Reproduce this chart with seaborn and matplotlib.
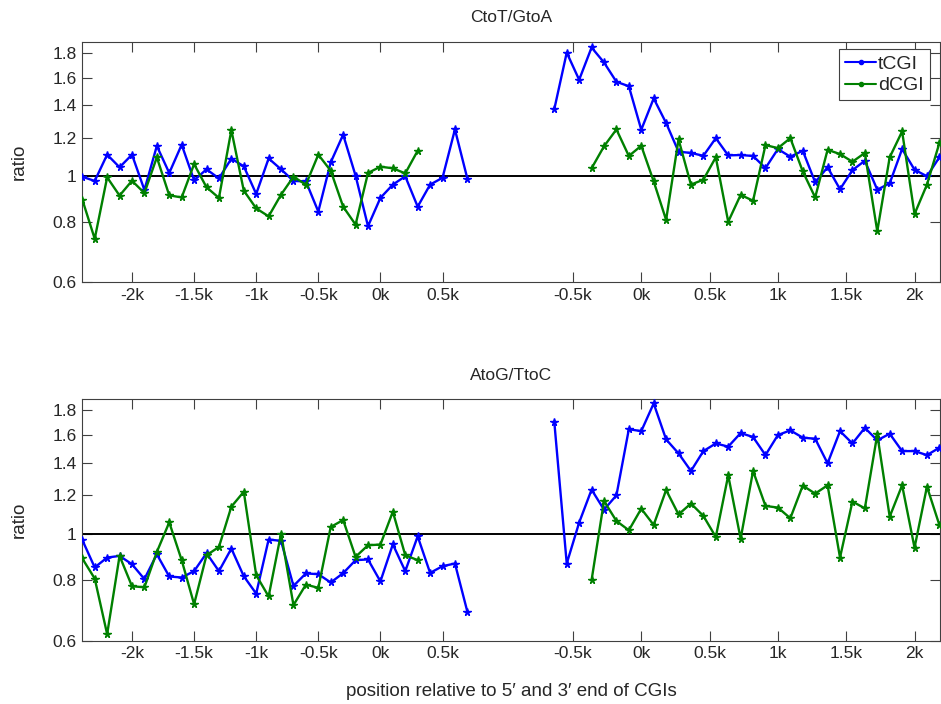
import numpy as np
import pandas as pd
import matplotlib
matplotlib.use("Agg")
import matplotlib.pyplot as plt
from matplotlib.lines import Line2D
from matplotlib.ticker import FixedLocator, FixedFormatter, NullLocator
import seaborn as sns

# ---------------- data ----------------
# 5' end: bins of 100 bp from -2400 to +700
left_bp = list(range(-2400, 800, 100))
# 3' end: bin index relative to the 3' end (bin 0 = 0k)
right_bin = list(range(-7, 25))

panel_titles = ["CtoT/GtoA", "AtoG/TtoC"]
groups = ["tCGI", "dCGI"]

ctot_tcgi_5 = [0.995, 0.975, 1.106, 1.041, 1.106, 0.934, 1.153, 1.013, 1.160, 0.978,
               1.031, 0.987, 1.085, 1.046, 0.916, 1.086, 1.031, 0.975, 0.973, 0.842,
               1.066, 1.217, 1.000, 0.785, 0.899, 0.958, 0.997, 0.862, 0.958, 0.990,
               1.248, 0.986]
ctot_dcgi_5 = [0.892, 0.739, 0.992, 0.909, 0.976, 0.920, 1.092, 0.910, 0.901, 1.057,
               0.946, 0.899, 1.244, 0.931, 0.855, 0.823, 0.913, 0.995, 0.958, 1.106,
               1.024, 0.862, 0.791, 1.013, 1.044, 1.036, 1.011, 1.127]
ctot_tcgi_3 = [1.376, 1.803, 1.583, 1.848, 1.720, 1.568, 1.535, 1.246, 1.448, 1.287,
               1.122, 1.115, 1.100, 1.197, 1.102, 1.104, 1.099, 1.037, 1.136, 1.095,
               1.127, 0.969, 1.041, 0.937, 1.027, 1.074, 0.935, 0.964, 1.136, 1.029,
               0.997, 1.092]
ctot_dcgi_3 = [1.036, 1.151, 1.248, 1.099, 1.154, 0.973, 0.809, 1.190, 0.958, 0.981,
               1.092, 0.802, 0.912, 0.887, 1.158, 1.141, 1.197, 1.021, 0.901, 1.132,
               1.109, 1.069, 1.115, 0.766, 1.092, 1.236, 0.832, 0.958, 1.169]

atog_tcgi_5 = [0.970, 0.851, 0.892, 0.899, 0.864, 0.805, 0.906, 0.815, 0.811, 0.836,
               0.911, 0.836, 0.931, 0.816, 0.751, 0.972, 0.966, 0.779, 0.827, 0.824,
               0.792, 0.828, 0.881, 0.884, 0.796, 0.950, 0.836, 0.987, 0.829, 0.856,
               0.867, 0.689]
atog_dcgi_5 = [0.888, 0.807, 0.619, 0.899, 0.778, 0.774, 0.916, 1.055, 0.881, 0.714,
               0.902, 0.938, 1.137, 1.221, 0.820, 0.741, 1.000, 0.711, 0.784, 0.772,
               1.032, 1.067, 0.895, 0.946, 0.949, 1.110, 0.902, 0.881]
atog_tcgi_3 = [1.702, 0.867, 1.054, 1.233, 1.121, 1.200, 1.645, 1.630, 1.860, 1.567,
               1.466, 1.348, 1.482, 1.537, 1.514, 1.615, 1.585, 1.454, 1.600, 1.636,
               1.580, 1.572, 1.398, 1.630, 1.537, 1.656, 1.560, 1.610, 1.482, 1.482,
               1.454, 1.506]
atog_dcgi_3 = [0.801, 1.168, 1.062, 1.016, 1.126, 1.042, 1.231, 1.096, 1.154, 1.088,
               0.984, 1.320, 0.976, 1.348, 1.141, 1.132, 1.076, 1.257, 1.210, 1.259,
               0.892, 1.165, 1.128, 1.605, 1.084, 1.259, 0.935, 1.251, 1.042]

ytick_vals = [0.6, 0.8, 1.0, 1.2, 1.4, 1.6, 1.8]
ytick_labels = ["0.6", "0.8", "1", "1.2", "1.4", "1.6", "1.8"]
left_tick_bp = [-2000, -1500, -1000, -500, 0, 500]
right_tick_bp = [-500, 0, 500, 1000, 1500, 2000]
left_tick_labels = ["-2k", "-1.5k", "-1k", "-0.5k", "0k", "0.5k"]
right_tick_labels = ["-0.5k", "0k", "0.5k", "1k", "1.5k", "2k"]

# ---------------- layout helpers ----------------
RIGHT_OFFSET = 45.0          # axis position of the 3' end (0k)
RIGHT_BIN_BP = 500 / 5.5     # bp covered by one 3' bin


def pos_left(bp):
    return (np.asarray(bp) + 2400) / 100.0


def pos_right(k):
    return RIGHT_OFFSET + np.asarray(k, dtype=float)


series = {
    panel_titles[0]: {"tCGI": (ctot_tcgi_5, ctot_tcgi_3), "dCGI": (ctot_dcgi_5, ctot_dcgi_3)},
    panel_titles[1]: {"tCGI": (atog_tcgi_5, atog_tcgi_3), "dCGI": (atog_dcgi_5, atog_dcgi_3)},
}

rows = []
for panel, d in series.items():
    for g, (v5, v3) in d.items():
        p5 = pos_left(left_bp[:len(v5)])
        for p, v in zip(p5, v5):
            rows.append((panel, g, "5'", p, v))
        rb = right_bin[len(right_bin) - len(v3):]
        p3 = pos_right(rb)
        for p, v in zip(p3, v3):
            rows.append((panel, g, "3'", p, v))
df = pd.DataFrame(rows, columns=["panel", "group", "segment", "pos", "ratio"])

# ---------------- plotting ----------------
sns.set_style("ticks")
plt.rcParams["font.family"] = ["Liberation Sans", "DejaVu Sans"]

colors = {"tCGI": (0, 0, 1), "dCGI": (0, 0.5, 0)}

fig = plt.figure(figsize=(9.41, 7.04), dpi=100)
ax_pos = [
    [82.3 / 941, 1 - 282.3 / 704, 857.7 / 941, 240.6 / 704],
    [82.3 / 941, 1 - 640.7 / 704, 857.7 / 941, 241.7 / 704],
]

xticks = list(pos_left(left_tick_bp)) + list(pos_right(np.array(right_tick_bp) / RIGHT_BIN_BP))
xlabels = left_tick_labels + right_tick_labels

for i, panel in enumerate(panel_titles):
    ax = fig.add_axes(ax_pos[i])
    sub = df[df.panel == panel]
    ax.axhline(1.0, color="black", lw=1.4, zorder=1)
    for g in groups:
        c = colors[g]
        sns.lineplot(data=sub[sub.group == g], x="pos", y="ratio", units="segment",
                     estimator=None, sort=False, color=c, lw=1.7, marker="*",
                     markersize=5.5, markeredgecolor=c, markeredgewidth=1.0,
                     ax=ax, legend=False, zorder=3)
    ax.set_yscale("log")
    ax.set_ylim(0.6, 1.9)
    ax.set_xlim(0, 69.05)
    ax.yaxis.set_major_locator(FixedLocator(ytick_vals))
    ax.yaxis.set_major_formatter(FixedFormatter(ytick_labels))
    ax.yaxis.set_minor_locator(NullLocator())
    ax.xaxis.set_major_locator(FixedLocator(xticks))
    ax.xaxis.set_major_formatter(FixedFormatter(xlabels))
    ax.xaxis.set_minor_locator(NullLocator())
    ax.tick_params(direction="in", top=True, right=True, length=7, width=0.8,
                   color="0.25", labelsize=12.5, pad=4)
    for s in ax.spines.values():
        s.set_color("0.25")
        s.set_linewidth(0.8)
    ax.set_xlabel("")
    ax.set_ylabel("")
    ax.set_title(panel, fontsize=12.5, pad=14)
    yc = ax_pos[i][1] + ax_pos[i][3] / 2
    fig.text(19 / 941, yc, "ratio", rotation=90, ha="center", va="center", fontsize=13.5)

    if i == 0:
        handles = [Line2D([0], [0], color=colors[g], lw=1.5, marker=".", markersize=6)
                   for g in groups]
        leg = ax.legend(handles, groups, loc="upper right", bbox_to_anchor=(0.988, 0.968),
                        borderaxespad=0, fancybox=False, framealpha=1, edgecolor="0.25",
                        fontsize=14, handlelength=1.6, handletextpad=0.1,
                        labelspacing=0.2, borderpad=0.3)
        leg.get_frame().set_linewidth(0.8)

fig.text(511 / 941, 1 - 692 / 704, "position relative to 5\u2032 and 3\u2032 end of CGIs",
         ha="center", va="center", fontsize=13.5)

fig.savefig("out.png", dpi=100)
